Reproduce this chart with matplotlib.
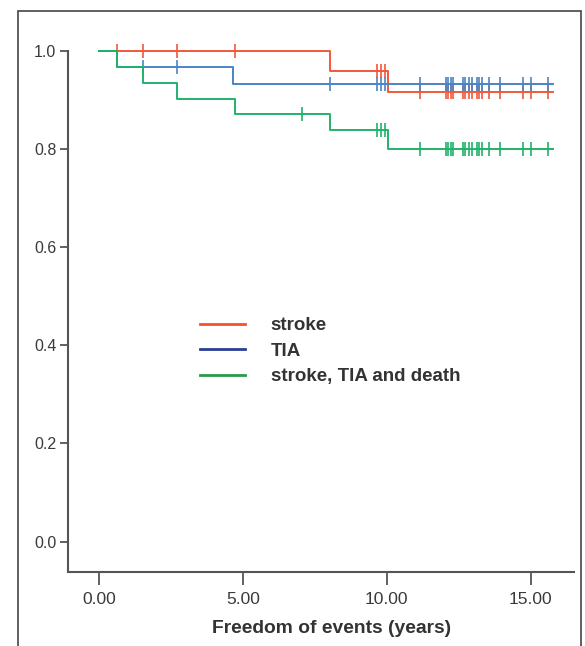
import numpy as np
import matplotlib
matplotlib.use("Agg")
import matplotlib.pyplot as plt
from matplotlib.lines import Line2D
from matplotlib.patches import Rectangle
from matplotlib.ticker import FormatStrFormatter

plt.rcParams['font.family'] = ['Liberation Sans', 'DejaVu Sans']

# step curves: event times (years) and survival after each step
end_time = 15.78
stroke_times = [0.0, 8.02, 10.05]
stroke_surv = [1.0, 0.96, 0.917]
tia_times = [0.0, 0.60, 4.66]
tia_surv = [1.0, 0.967, 0.933]
all_times = [0.0, 0.60, 1.53, 2.69, 4.72, 8.02, 10.05]
all_surv = [1.0, 0.967, 0.935, 0.903, 0.871, 0.838, 0.80]

# censored observations
late_censor = [11.16, 12.06, 12.14, 12.22, 12.31, 12.66, 12.73, 12.87, 12.96,
               13.15, 13.22, 13.30, 13.56, 13.94, 14.75, 15.02, 15.62]
stroke_censor = [0.60, 1.53, 2.69, 4.72, 9.65, 9.80, 9.95] + late_censor
tia_censor = [1.53, 2.69, 8.02, 9.65, 9.80, 9.95] + late_censor
all_censor = [7.04, 9.65, 9.80, 9.95] + late_censor

labels = ['stroke', 'TIA', 'stroke, TIA and death']
line_colors = ['#f2583a', '#4a84c6', '#20b26a']
legend_colors = ['#f4512c', '#2a3f95', '#2a9a48']


def surv_at(t, times, surv):
    idx = np.searchsorted(times, t, side='right') - 1
    return np.array(surv)[idx]


fig = plt.figure(figsize=(5.85, 6.46), dpi=100)
ax = fig.add_axes([0.1154, 0.1138, 0.8653, 0.8073])

curves = [(stroke_times, stroke_surv, stroke_censor),
          (tia_times, tia_surv, tia_censor),
          (all_times, all_surv, all_censor)]
for (times, surv, cens), col in zip(curves, line_colors):
    tt = list(times) + [end_time]
    ss = list(surv) + [surv[-1]]
    ax.step(tt, ss, where='post', color=col, lw=1.4, clip_on=False)
    cy = surv_at(np.array(cens), times, surv)
    ax.plot(cens, cy, ls='none', marker='|', ms=10, mew=1.2, color=col, clip_on=False)

ax.set_xlim(-1.11, 16.5)
ax.set_ylim(-0.063, 1.0)
ax.set_xticks([0, 5, 10, 15])
ax.set_yticks([0.0, 0.2, 0.4, 0.6, 0.8, 1.0])
ax.xaxis.set_major_formatter(FormatStrFormatter('%.2f'))
ax.yaxis.set_major_formatter(FormatStrFormatter('%.1f'))
ax.tick_params(axis='y', length=6, width=1.3, color='#555555', labelsize=11.5,
               labelcolor='#3a3a3a', pad=2)
ax.tick_params(axis='x', length=9, width=1.3, color='#555555', labelsize=12.5,
               labelcolor='#3a3a3a', pad=5)
for s in ['top', 'right']:
    ax.spines[s].set_visible(False)
for s in ['left', 'bottom']:
    ax.spines[s].set_color('#555555')
    ax.spines[s].set_linewidth(1.5)

ax.set_xlabel('Freedom of events (years)', fontsize=13.9, fontweight='bold',
              color='#333333')
ax.xaxis.set_label_coords(0.521, -0.092)

handles = [Line2D([], [], color=c, lw=2) for c in legend_colors]
leg = ax.legend(handles, labels, loc='upper left', bbox_to_anchor=(0.229, 0.522),
                frameon=False, handlelength=2.4, handletextpad=1.35,
                labelspacing=0.45, prop={'size': 13.5, 'weight': 'bold'})
for t in leg.get_texts():
    t.set_color('#333333')

# outer frame
fig.patches.append(Rectangle((0.031, -0.02), 0.962, 1.003, transform=fig.transFigure,
                             fill=False, ec='#444444', lw=1.2))

fig.savefig('out.png', dpi=100)
